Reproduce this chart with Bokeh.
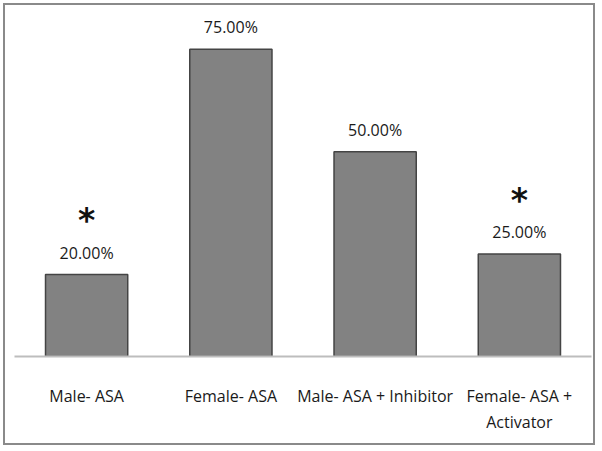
from bokeh.plotting import figure
from bokeh.models import ColumnDataSource, Range1d
from bokeh.core.properties import value
from bokeh.embed import file_html
from bokeh.resources import INLINE

groups = ["Male- ASA", "Female- ASA", "Male- ASA + Inhibitor", "Female- ASA +\nActivator"]
percent = [20.0, 75.0, 50.0, 25.0]
labels = ["20.00%", "75.00%", "50.00%", "25.00%"]
significance = ["*", "", "", "*"]

FONT = "Open Sans"

src = ColumnDataSource(dict(g=groups, v=percent, lab=labels, sig=significance))

p = figure(x_range=groups, y_range=Range1d(0, 84), width=592, height=442,
           output_backend="svg", toolbar_location=None,
           min_border_left=9, min_border_right=6, min_border_top=7, min_border_bottom=91)
p.styles = {"border": "2px solid #8a8a8a", "box-sizing": "border-box", "margin": "3px 0 0 3px"}

p.vbar(x="g", top="v", width=0.57, source=src, fill_color="#828282",
       line_color="#444444", line_width=1.5)

p.text(x="g", y="v", text="lab", source=src, y_offset=-11,
       text_align="center", text_baseline="bottom",
       text_font=value(FONT), text_font_size="16px", text_color="#1a1a1a")
p.text(x="g", y="v", text="sig", source=src, y_offset=-54,
       text_align="center", text_baseline="middle",
       text_font=value("DejaVu Sans"), text_font_style="bold",
       text_font_size="33px", text_color="#111111")

p.yaxis.visible = False
p.xgrid.visible = False
p.ygrid.visible = False
p.outline_line_color = None

xa = p.xaxis[0]
xa.axis_line_color = "#bdbdbd"
xa.axis_line_width = 2
xa.major_tick_line_color = None
xa.minor_tick_line_color = None
xa.major_label_standoff = 22
xa.major_label_text_font = FONT
xa.major_label_text_font_size = "16px"
xa.major_label_text_color = "#1a1a1a"

open("out.html", "w").write(file_html(p, INLINE))
